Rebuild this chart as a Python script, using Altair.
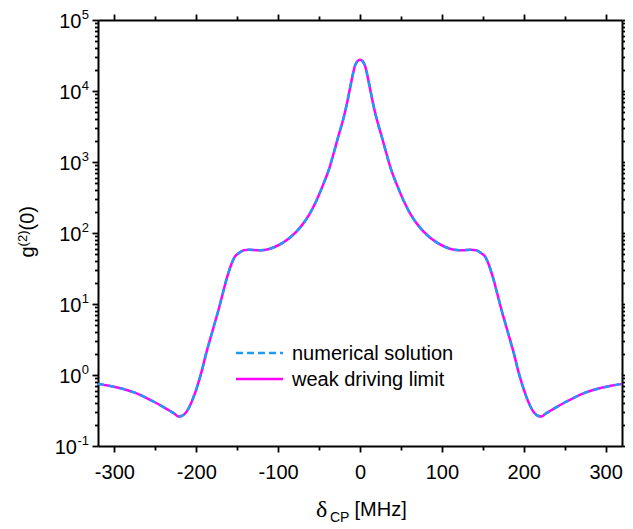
import altair as alt
import pandas as pd

# ---- data ----
delta = [-320, -308, -295, -282, -270, -260, -250, -240, -232, -226,
         -222, -218, -213, -208, -203, -198, -193, -188, -183, -178,
         -173, -168, -163, -158, -153, -148, -142, -135, -125, -115,
         -105, -95, -85, -73, -62, -53, -45, -37, -32, -26,
         -20, -16, -12, -9, -6, -3, 0,
         3, 6, 9, 12, 16, 20, 26, 32, 37, 45,
         53, 62, 73, 85, 95, 105, 115, 125, 135, 142,
         148, 153, 158, 163, 168, 173, 178, 183, 188, 193,
         198, 203, 208, 213, 218, 222, 226, 232, 240, 250,
         260, 270, 282, 295, 308, 320]

g2_numerical = [0.75, 0.71, 0.66, 0.60, 0.535, 0.47, 0.41, 0.353, 0.311, 0.282,
                0.261, 0.265, 0.292, 0.363, 0.50, 0.74, 1.17, 2.0, 3.2, 5.1,
                8.1, 13.5, 22.4, 34, 46, 52, 57, 58, 57, 58,
                63, 72, 87, 120, 182, 290, 480, 850, 1350, 2400,
                4200, 6600, 11200, 16600, 22900, 26300, 27500,
                26300, 22900, 16600, 11200, 6600, 4200, 2400, 1350, 850, 480,
                290, 182, 120, 87, 72, 63, 58, 57, 58, 57,
                52, 46, 34, 22.4, 13.5, 8.1, 5.1, 3.2, 2.0, 1.17,
                0.74, 0.50, 0.363, 0.292, 0.265, 0.261, 0.282, 0.311, 0.353, 0.41,
                0.47, 0.535, 0.60, 0.66, 0.71, 0.75]

g2_weak = [0.75, 0.71, 0.66, 0.60, 0.535, 0.47, 0.41, 0.353, 0.311, 0.282,
           0.261, 0.265, 0.292, 0.363, 0.50, 0.74, 1.17, 2.0, 3.2, 5.1,
           8.1, 13.5, 22.4, 34, 46, 52, 57, 58, 57, 58,
           63, 72, 87, 120, 182, 290, 480, 850, 1350, 2400,
           4200, 6600, 11200, 16600, 22900, 26300, 27500,
           26300, 22900, 16600, 11200, 6600, 4200, 2400, 1350, 850, 480,
           290, 182, 120, 87, 72, 63, 58, 57, 58, 57,
           52, 46, 34, 22.4, 13.5, 8.1, 5.1, 3.2, 2.0, 1.17,
           0.74, 0.50, 0.363, 0.292, 0.265, 0.261, 0.282, 0.311, 0.353, 0.41,
           0.47, 0.535, 0.60, 0.66, 0.71, 0.75]

legend_labels = ["numerical solution", "weak driving limit"]

x_major = [-300, -200, -100, 0, 100, 200, 300]
x_minor = [-250, -150, -50, 50, 150, 250]
y_decades = [0.1, 1, 10, 100, 1000, 10000, 100000]
y_exponents = ["-1", "0", "1", "2", "3", "4", "5"]
y_minor = [m * d for d in [0.1, 1, 10, 100, 1000, 10000] for m in range(2, 10)]

MAGENTA = "#FF00FF"
CYAN = "#1E9BF5"
FONT = "Liberation Sans"

df = pd.DataFrame({"delta": delta, "num": g2_numerical, "weak": g2_weak})
ydf = pd.DataFrame({"dec": y_decades, "exp": y_exponents})
one = pd.DataFrame({"k": [0]})

xscale = alt.Scale(domain=[-320, 320], nice=False, zero=False)
yscale = alt.Scale(type="log", domain=[0.1, 100000], nice=False)

x_tick_size = {"condition": {"test": "datum.value % 100 == 0", "value": 6}, "value": 4}
y_test = "abs(log(datum.value)/LN10 - round(log(datum.value)/LN10)) < 0.001"
y_tick_size = {"condition": {"test": y_test, "value": 6}, "value": 3.5}

common = dict(grid=False, domainColor="black", domainWidth=2, tickColor="black",
              tickWidth=1.8, title=None)

ax_bottom = alt.Axis(orient="bottom", values=x_major + x_minor,
                     labelExpr="datum.value % 100 == 0 ? '' + datum.value : ''",
                     labelFont=FONT, labelFontSize=20, labelColor="black",
                     labelPadding=10, labelOverlap=False, tickSize=x_tick_size, **common)
ax_top = alt.Axis(orient="top", values=x_major + x_minor, labels=False,
                  tickSize=x_tick_size, **common)
ax_left = alt.Axis(orient="left", values=y_decades + y_minor, labels=False,
                   tickSize=y_tick_size, **common)
ax_right = alt.Axis(orient="right", values=y_decades + y_minor, labels=False,
                    tickSize=y_tick_size, **common)

weak_line = alt.Chart(df).mark_line(color=MAGENTA, strokeWidth=2.5, interpolate="monotone").encode(
    x=alt.X("delta:Q", scale=xscale, axis=ax_bottom),
    y=alt.Y("weak:Q", scale=yscale, axis=ax_left),
)
num_line = alt.Chart(df).mark_line(color=CYAN, strokeWidth=2.5, strokeDash=[6, 5],
                                   interpolate="monotone").encode(
    x=alt.X("delta:Q", scale=xscale, axis=ax_top),
    y=alt.Y("num:Q", scale=yscale, axis=ax_right),
)

# y tick labels 10^n
ten_a = alt.Chart(ydf).transform_filter("datum.exp != '-1'").mark_text(
    text="10", align="right", baseline="alphabetic", dy=8, font=FONT, fontSize=20, color="black"
).encode(x=alt.value(-16.5), y=alt.Y("dec:Q", scale=yscale, axis=None))
ten_b = alt.Chart(ydf).transform_filter("datum.exp == '-1'").mark_text(
    text="10", align="right", baseline="alphabetic", dy=8, font=FONT, fontSize=20, color="black"
).encode(x=alt.value(-21), y=alt.Y("dec:Q", scale=yscale, axis=None))
expo = alt.Chart(ydf).mark_text(
    align="right", baseline="alphabetic", dy=-1, font=FONT, fontSize=13, color="black"
).encode(x=alt.value(-9), y=alt.Y("dec:Q", scale=yscale, axis=None), text="exp:N")

# legend
leg_df = pd.DataFrame({"label": legend_labels})
leg_rule1 = alt.Chart(one).mark_rule(color=CYAN, strokeWidth=2.5, strokeDash=[7, 4]).encode(
    x=alt.value(138), x2=alt.value(185), y=alt.value(333))
leg_rule2 = alt.Chart(one).mark_rule(color=MAGENTA, strokeWidth=2.5).encode(
    x=alt.value(138), x2=alt.value(185), y=alt.value(359))
leg_t1 = alt.Chart(leg_df).transform_filter(f"datum.label == '{legend_labels[0]}'").mark_text(
    align="left", baseline="middle", font=FONT, fontSize=20, color="black"
).encode(x=alt.value(194), y=alt.value(334), text="label:N")
leg_t2 = alt.Chart(leg_df).transform_filter(f"datum.label == '{legend_labels[1]}'").mark_text(
    align="left", baseline="middle", font=FONT, fontSize=20, color="black"
).encode(x=alt.value(194), y=alt.value(360), text="label:N")

# x title  δ_CP [MHz]
xt1 = alt.Chart(one).mark_text(text="δ", align="left", baseline="alphabetic",
                               font="Liberation Serif", fontSize=24, color="black").encode(
    x=alt.value(218), y=alt.value(497))
xt2 = alt.Chart(one).mark_text(text="CP", align="left", baseline="alphabetic",
                               font=FONT, fontSize=14, color="black").encode(
    x=alt.value(232), y=alt.value(502))
xt3 = alt.Chart(one).mark_text(text="[MHz]", align="left", baseline="alphabetic",
                               font=FONT, fontSize=20, color="black").encode(
    x=alt.value(256.5), y=alt.value(496))

# y title  g^(2)(0)
yt1 = alt.Chart(one).mark_text(text="g", align="left", baseline="alphabetic", angle=270,
                               font=FONT, fontSize=20, color="black").encode(
    x=alt.value(-64), y=alt.value(237.5))
yt2 = alt.Chart(one).mark_text(text="(2)", align="left", baseline="alphabetic", angle=270,
                               font=FONT, fontSize=13, color="black").encode(
    x=alt.value(-71), y=alt.value(226.4))
yt3 = alt.Chart(one).mark_text(text="(0)", align="left", baseline="alphabetic", angle=270,
                               font=FONT, fontSize=20, color="black").encode(
    x=alt.value(-64), y=alt.value(210.5))

chart = alt.layer(
    weak_line, num_line, ten_a, ten_b, expo,
    leg_rule1, leg_rule2, leg_t1, leg_t2,
    xt1, xt2, xt3, yt1, yt2, yt3,
).resolve_axis(x="independent", y="independent").properties(
    width=524, height=426,
    padding={"left": 90, "top": 12, "right": 3, "bottom": 80},
    autosize=alt.AutoSizeParams(type="none"),
    background="white",
).configure_view(stroke=None)

chart.save("out.html", embed_options={"renderer": "svg", "actions": False})
